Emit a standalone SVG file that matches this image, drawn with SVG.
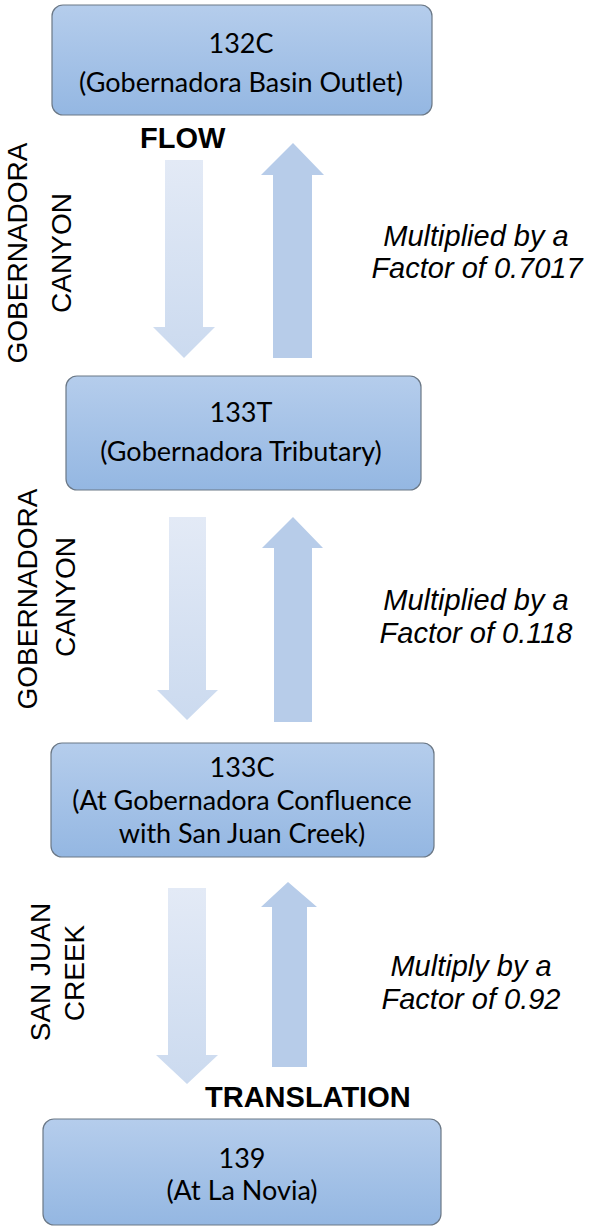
<svg xmlns="http://www.w3.org/2000/svg" width="589" height="1228" viewBox="0 0 589 1228">
<style>
.box{fill:url(#bg);stroke:#6b7886;stroke-width:1.2}
.bt{font-family:Lato,"Open Sans",sans-serif;font-size:27px;fill:#000;text-anchor:middle}
.lbl{font-family:"Liberation Sans",Arial,sans-serif;font-size:28px;fill:#000;text-anchor:middle}
.bold{font-family:"Liberation Sans",Arial,sans-serif;font-size:29px;font-weight:bold;fill:#000}
.it{font-family:"Liberation Sans",Arial,sans-serif;font-size:29px;font-style:italic;fill:#000;text-anchor:middle}
.dn{fill:url(#dg)}
.up{fill:#b7cce9}
</style>
<defs>
<linearGradient id="bg" x1="0" y1="0" x2="0" y2="1">
<stop offset="0" stop-color="#b5cdec"/>
<stop offset="1" stop-color="#94b7e2"/>
</linearGradient>
<linearGradient id="dg" x1="0" y1="0" x2="0" y2="1">
<stop offset="0" stop-color="#e3eaf6"/>
<stop offset="1" stop-color="#cbdaef"/>
</linearGradient>
</defs>
<g id="connectors">
<polygon class="dn" points="165,160 203,160 203,327 215,327 184,358 153,327 165,327"/>
<polygon class="up" points="293,143 324,175 312,175 312,358 273,358 273,175 261,175"/>
<polygon class="dn" points="169,517 206,517 206,690 218,690 187,720 157,690 169,690"/>
<polygon class="up" points="293,517 323,548 312,548 312,722 274,722 274,548 262,548"/>
<polygon class="dn" points="168,888 206,888 206,1055 218,1055 187,1084 156,1055 168,1055"/>
<polygon class="up" points="288,882 317,907 307,907 307,1067 272,1067 272,907 261,907"/>
</g>
<g id="node-132C">
<rect class="box" x="52" y="5" width="380" height="110" rx="11"/>
<text class="bt" x="241" y="53">132C</text>
<text class="bt" x="241" y="92">(Gobernadora Basin Outlet)</text>
</g>
<g id="node-133T">
<rect class="box" x="66" y="376" width="355" height="114" rx="11"/>
<text class="bt" x="241" y="422">133T</text>
<text class="bt" x="241" y="461">(Gobernadora Tributary)</text>
</g>
<g id="node-133C">
<rect class="box" x="51" y="743" width="383" height="114" rx="11"/>
<text class="bt" x="242" y="777">133C</text>
<text class="bt" x="242" y="810">(At Gobernadora Confluence</text>
<text class="bt" x="242" y="843">with San Juan Creek)</text>
</g>
<g id="node-139">
<rect class="box" x="43" y="1119" width="398" height="106" rx="11"/>
<text class="bt" x="242" y="1168">139</text>
<text class="bt" x="242" y="1200">(At La Novia)</text>
</g>
<g id="labels">
<text class="bold" x="140" y="148">FLOW</text>
<text class="bold" x="205" y="1107">TRANSLATION</text>
<text class="lbl" transform="translate(27,253) rotate(-90)">GOBERNADORA</text>
<text class="lbl" transform="translate(71,253) rotate(-90)">CANYON</text>
<text class="lbl" transform="translate(37,599) rotate(-90)">GOBERNADORA</text>
<text class="lbl" transform="translate(75,597) rotate(-90)">CANYON</text>
<text class="lbl" transform="translate(50,972) rotate(-90)">SAN JUAN</text>
<text class="lbl" transform="translate(84,973) rotate(-90)">CREEK</text>
<text class="it" x="476" y="246">Multiplied by a</text>
<text class="it" x="477" y="278">Factor of 0.7017</text>
<text class="it" x="476" y="610">Multiplied by a</text>
<text class="it" x="476" y="643">Factor of 0.118</text>
<text class="it" x="471" y="976">Multiply by a</text>
<text class="it" x="471" y="1009">Factor of 0.92</text>
</g>
</svg>
